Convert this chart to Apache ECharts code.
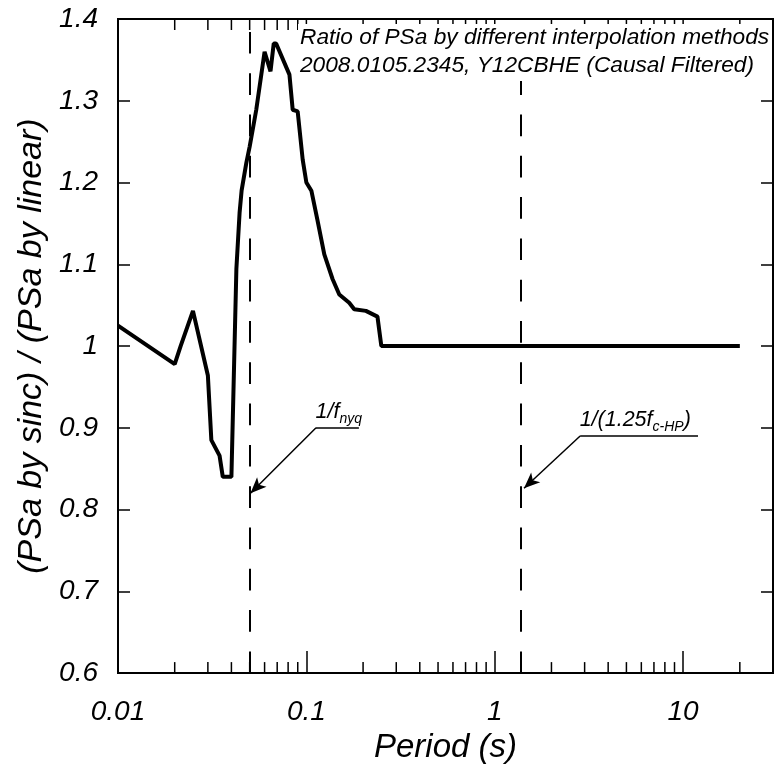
<!DOCTYPE html>
<html><head><meta charset="utf-8">
<script src="https://cdn.jsdelivr.net/npm/echarts@6/dist/echarts.min.js"></script>
<style>html,body{margin:0;padding:0;background:#fff}#c{width:777px;height:769px}</style>
</head><body><div id="c"></div>
<script>
// ---- data ----
const periods = [0.01,0.02,0.0215,0.025,0.03,0.0313,0.0346,0.036,0.04,0.0425,0.0442,0.0453,0.048,0.05,0.0542,0.06,0.0645,0.0671,0.0691,0.0813,0.0846,0.0899,0.0956,0.1,0.1063,0.1143,0.1245,0.1377,0.1495,0.1688,0.1795,0.207,0.2384,0.25,20];
const ratios  = [1.025,0.978,1.0,1.043,0.964,0.885,0.866,0.84,0.84,1.094,1.163,1.19,1.224,1.244,1.289,1.36,1.336,1.37,1.37,1.332,1.289,1.287,1.228,1.2,1.19,1.155,1.112,1.082,1.063,1.053,1.045,1.043,1.036,1.0,1.0];
const refPeriods = [0.05, 1.37];               // dashed reference lines
const xMajorTicks = [0.01, 0.1, 1, 10];
const xTickLabels = ['0.01', '0.1', '1', '10'];
const xMinorTicks = [0.02,0.03,0.04,0.05,0.06,0.07,0.08,0.09,0.2,0.3,0.4,0.5,0.6,0.7,0.8,0.9,2,3,4,5,6,7,8,9,20];
const yTickLabels = ['0.6','0.7','0.8','0.9','1','1.1','1.2','1.3','1.4'];
const xMin = 0.01, xMax = 30, yMin = 0.6, yMax = 1.4, yStep = 0.1;
const titleLines = ['Ratio of PSa by different interpolation methods', '2008.0105.2345, Y12CBHE (Causal Filtered)'];
// annotation arrows: label anchor (period, ratio), underline end (period), arrow tip (period, ratio)
const annoNyq = { start: [0.1125, 0.9], underlineEnd: 0.19, tip: [0.0505, 0.82] };
const annoHP  = { start: [2.84, 0.89], underlineEnd: 12.0, tip: [1.43, 0.826] };

const FONT = '"Liberation Sans", Arial, sans-serif';
const chart = echarts.init(document.getElementById('c'), null, { renderer: 'canvas' });

const blackLine = { show: true, lineStyle: { color: '#000', width: 2 } };
const tickStyle = { color: '#000', width: 1.5 };

function annoLines(a) {
  return [
    [{ coord: a.start, symbol: 'none' }, { coord: [a.underlineEnd, a.start[1]], symbol: 'none' }],
    [{ coord: a.start, symbol: 'none' }, { coord: a.tip, symbol: 'arrow', symbolSize: [10, 16] }]
  ];
}

// mirrored (top) and minor (bottom) ticks of the log period axis, placed through the axis scale
function tickSeries(side) {
  return {
    type: 'custom', xAxisIndex: 0, yAxisIndex: 0, silent: true, z: 5, clip: false,
    encode: { x: 0, y: 1 },
    data: (side === 'top' ? xMajorTicks.concat(xMinorTicks) : xMinorTicks).map(v => [v, side === 'top' ? yMax : yMin]),
    renderItem: (params, api) => {
      const v = api.value(0);
      const len = xMajorTicks.indexOf(v) >= 0 ? 22 : 11;
      const p = api.coord([v, api.value(1)]);
      const dir = side === 'top' ? 1 : -1;
      return { type: 'line', shape: { x1: p[0], y1: p[1], x2: p[0], y2: p[1] + dir * len },
               style: { stroke: '#000', lineWidth: 1.5 } };
    }
  };
}

const option = {
  animation: false,
  backgroundColor: '#fff',
  title: {
    text: titleLines.join('\n'),
    left: 298, top: 24,
    padding: [0, 2, 2, 2],
    backgroundColor: '#fff',
    textStyle: { fontFamily: FONT, fontStyle: 'italic', fontWeight: 'normal', fontSize: 22.7, lineHeight: 27.5, color: '#000' }
  },
  grid: { left: 118, right: 4, top: 19, bottom: 94, containLabel: false, show: true, borderColor: '#000', borderWidth: 2, backgroundColor: 'transparent' },
  xAxis: {
    type: 'log', logBase: 10, min: xMin, max: xMax, position: 'bottom',
    splitLine: { show: false }, minorTick: { show: false },
    name: 'Period (s)', nameLocation: 'middle', nameGap: 57,
    nameTextStyle: { fontFamily: FONT, fontStyle: 'italic', fontSize: 33, color: '#000' },
    axisLine: blackLine,
    axisTick: { show: true, inside: true, length: 22, customValues: xMajorTicks, lineStyle: tickStyle },
    axisLabel: { show: true, customValues: xMajorTicks, margin: 25, fontFamily: FONT, fontStyle: 'italic', fontSize: 28, color: '#000',
      formatter: v => xTickLabels[Math.round(Math.log10(v)) + 2] }
  },
  yAxis: [
    {
      type: 'value', min: yMin, max: yMax, interval: yStep, position: 'left',
      name: '(PSa by sinc) / (PSa by linear)', nameLocation: 'middle', nameGap: 69, nameRotate: 90,
      nameTextStyle: { fontFamily: FONT, fontStyle: 'italic', fontSize: 34, color: '#000' },
      splitLine: { show: false },
      axisLine: blackLine,
      axisTick: { show: true, inside: true, length: 12, lineStyle: tickStyle },
      axisLabel: { margin: 20, fontFamily: FONT, fontStyle: 'italic', fontSize: 28, color: '#000',
        formatter: v => yTickLabels[Math.round((v - yMin) / yStep)] }
    },
    {
      type: 'value', min: yMin, max: yMax, interval: yStep, position: 'right',
      splitLine: { show: false },
      axisLine: blackLine,
      axisTick: { show: true, inside: true, length: 12, lineStyle: tickStyle },
      axisLabel: { show: false }
    }
  ],
  series: [
    tickSeries('bottom'),
    tickSeries('top'),
    {
      type: 'line', xAxisIndex: 0, yAxisIndex: 0,
      data: periods.map((p, i) => [p, ratios[i]]),
      showSymbol: false, symbol: 'none',
      lineStyle: { color: '#000', width: 4 },
      z: 3,
      markLine: {
        silent: true, symbol: 'none', animation: false,
        label: { show: false },
        lineStyle: { color: '#000', width: 2, type: [21.7, 19.6], dashOffset: 0 },
        data: refPeriods.map(p => [{ coord: [p, yMin] }, { coord: [p, yMax] }])
      }
    },
    {
      type: 'line', xAxisIndex: 0, yAxisIndex: 0, data: [], z: 4,
      markLine: {
        silent: true, animation: false,
        label: { show: false },
        lineStyle: { color: '#000', width: 1.5, type: 'solid' },
        data: annoLines(annoNyq).concat(annoLines(annoHP))
      },
      markPoint: {
        silent: true, animation: false,
        symbol: 'rect', symbolSize: 1,
        itemStyle: { color: 'rgba(0,0,0,0)' },
        label: {
          show: true, position: [0, 0], align: 'left', verticalAlign: 'bottom', offset: [0, -1],
          color: '#000',
          rich: {
            a: { fontFamily: FONT, fontStyle: 'italic', fontSize: 21.5, lineHeight: 29, verticalAlign: 'middle', color: '#000' },
            b: { fontFamily: FONT, fontStyle: 'italic', fontSize: 14, lineHeight: 12, verticalAlign: 'bottom', color: '#000' }
          }
        },
        data: [
          { coord: annoNyq.start, label: { formatter: '{a|1/f}{b|nyq}' } },
          { coord: annoHP.start, label: { formatter: '{a|1/(1.25f}{b|c-HP}{a|)}' } }
        ]
      }
    }
  ]
};
chart.setOption(option);
</script>
</body></html>
